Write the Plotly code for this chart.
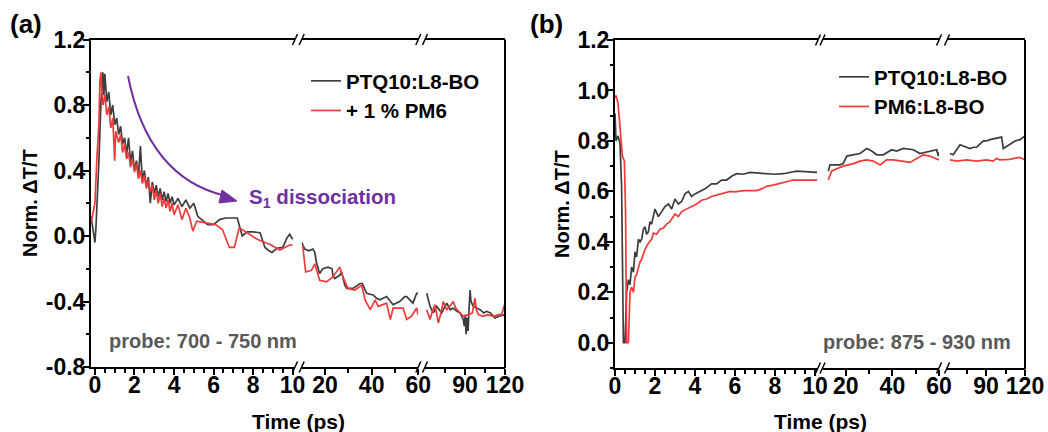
import plotly.graph_objects as go

# ---------------- data ----------------
# Panel (a): probe 700-750 nm
a_blk_t1 = [-0.2,-0.1,0.0,0.05,0.1,0.2,0.3,0.4,0.45,0.5,0.6,0.7,0.8,0.9,1.0,1.1,1.2,1.3,1.4,1.5,1.6,1.7,1.8,1.9,2.0,2.1,2.2,2.3,2.4,2.5,2.6,2.7,2.8,2.9,3.0,3.1,3.2,3.3,3.4,3.5,3.6,3.7,3.8,3.9,4.0,4.2,4.4,4.6,4.8,5.0,5.2,5.4,5.7,6.0,6.3,6.6,6.9,7.2,7.45,7.7,8.0,8.35,8.6,8.8,8.96,9.2,9.5,9.72,9.85,10.0]
a_blk_y1 = [0.12,0.04,-0.04,0.05,0.16,0.46,0.81,1.0,0.86,0.99,0.82,0.88,0.74,0.8,0.68,0.72,0.62,0.67,0.56,0.6,0.5,0.6,0.45,0.52,0.4,0.46,0.36,0.55,0.33,0.4,0.3,0.36,0.2,0.33,0.26,0.31,0.24,0.29,0.22,0.27,0.21,0.26,0.2,0.24,0.19,0.23,0.18,0.22,0.17,0.2,0.12,0.1,0.07,0.07,0.1,0.11,0.11,0.11,0.0,0.025,0.025,0.02,-0.07,-0.09,-0.1,-0.075,-0.07,-0.01,0.01,-0.02]
a_red_t1 = [-0.2,-0.1,0.0,0.1,0.2,0.25,0.3,0.35,0.4,0.5,0.6,0.7,0.8,0.9,1.0,1.05,1.2,1.3,1.4,1.5,1.6,1.7,1.8,1.9,2.0,2.1,2.2,2.3,2.4,2.5,2.6,2.7,2.8,2.9,3.0,3.1,3.2,3.3,3.4,3.5,3.6,3.7,3.8,3.9,4.0,4.2,4.4,4.6,4.8,4.95,5.15,5.6,6.1,6.45,6.8,7.05,7.3,7.7,8.2,8.6,8.85,9.35,9.85,10.0]
a_red_y1 = [0.08,0.14,0.2,0.48,0.68,0.95,1.0,0.88,0.8,0.86,0.74,0.79,0.66,0.72,0.46,0.64,0.57,0.62,0.51,0.56,0.47,0.51,0.42,0.47,0.39,0.44,0.35,0.4,0.32,0.37,0.29,0.34,0.27,0.31,0.22,0.28,0.2,0.26,0.18,0.23,0.17,0.22,0.15,0.2,0.13,0.19,0.1,0.17,0.11,0.03,0.09,0.08,0.07,0.04,-0.07,-0.07,0.05,0.02,-0.02,-0.04,-0.05,-0.085,-0.055,-0.055]
a_blk_t2 = [10.0,11.3,13.0,14.8,15.6,16.3,17.7,19.0,21.3,23.0,23.4,24.2,26.3,27.1,28.5,29.3,32.0,35.0,36.0,37.8,40.6,42.1,43.5,46.4,49.2,52.0,54.2,55.0,57.7,59.3,59.9]
a_blk_y2 = [-0.04,-0.08,-0.09,-0.08,-0.1,-0.16,-0.23,-0.2,-0.19,-0.2,-0.24,-0.26,-0.24,-0.22,-0.3,-0.32,-0.32,-0.29,-0.29,-0.35,-0.36,-0.38,-0.39,-0.37,-0.42,-0.4,-0.37,-0.37,-0.41,-0.35,-0.35]
a_red_t2 = [10.4,11.7,14.2,15.6,17.7,20.6,23.4,26.3,27.7,29.8,32.8,35.7,37.2,39.4,41.5,42.8,46.4,48.0,49.2,53.5,55.0,57.1,59.3,59.9]
a_red_y2 = [-0.055,-0.22,-0.21,-0.17,-0.27,-0.28,-0.25,-0.19,-0.25,-0.32,-0.33,-0.3,-0.39,-0.45,-0.39,-0.43,-0.41,-0.51,-0.44,-0.44,-0.51,-0.49,-0.44,-0.48]
a_blk_t3 = [61.3,63.8,66.2,68.8,72.5,76.3,79.0,81.0,84.0,86.3,88.7,89.5,90.2,90.8,91.5,92.3,93.0,93.8,94.5,96.2,98.5,101.3,104.0,106.3,109.0,112.5,115.5,118.7,120.0]
a_blk_y3 = [-0.35,-0.43,-0.47,-0.43,-0.47,-0.41,-0.45,-0.44,-0.46,-0.47,-0.51,-0.55,-0.48,-0.6,-0.5,-0.58,-0.45,-0.33,-0.4,-0.43,-0.44,-0.45,-0.47,-0.46,-0.47,-0.5,-0.49,-0.48,-0.48]
a_red_t3 = [61.3,63.8,65.5,67.5,70.0,72.0,73.7,76.3,78.5,81.2,83.0,85.0,88.7,92.5,95.5,97.5,98.5,100.0,103.7,107.0,111.2,115.0,117.5,120.0]
a_red_y3 = [-0.45,-0.51,-0.46,-0.42,-0.53,-0.47,-0.4,-0.45,-0.43,-0.4,-0.44,-0.46,-0.49,-0.48,-0.47,-0.38,-0.45,-0.48,-0.49,-0.48,-0.49,-0.48,-0.48,-0.41]

# Panel (b): probe 875-930 nm
b_blk_t1 = [0.0,0.05,0.15,0.25,0.33,0.37,0.42,0.5,0.58,0.67,0.75,0.83,0.92,1.0,1.08,1.17,1.25,1.33,1.42,1.5,1.58,1.67,1.75,1.83,1.92,2.0,2.17,2.33,2.5,2.67,2.83,3.0,3.17,3.33,3.5,3.67,3.83,4.0,4.25,4.5,4.83,5.08,5.33,5.58,5.83,6.08,6.4,6.75,7.2,7.58,8.0,8.42,8.75,9.08,9.5,10.1]
b_blk_y1 = [0.91,0.8,0.82,0.79,0.62,0.2,0.0,0.0,0.2,0.25,0.23,0.3,0.28,0.36,0.34,0.41,0.4,0.41,0.45,0.46,0.43,0.44,0.48,0.47,0.5,0.53,0.5,0.52,0.54,0.55,0.53,0.57,0.55,0.56,0.59,0.6,0.58,0.59,0.6,0.61,0.63,0.63,0.645,0.645,0.66,0.67,0.668,0.675,0.672,0.67,0.668,0.67,0.675,0.68,0.678,0.675]
b_red_t1 = [0.0,0.05,0.15,0.25,0.37,0.47,0.53,0.58,0.67,0.75,0.83,0.92,1.0,1.08,1.17,1.25,1.33,1.42,1.5,1.67,1.83,1.92,2.08,2.25,2.42,2.58,2.75,3.0,3.17,3.33,3.58,3.83,4.08,4.33,4.58,4.83,5.08,5.33,5.75,6.0,6.42,6.75,7.08,7.33,7.58,7.9,8.25,8.6,8.92,9.3,9.7,10.1]
b_red_y1 = [0.97,0.98,0.95,0.84,0.74,0.72,0.51,0.0,0.0,0.2,0.22,0.2,0.26,0.27,0.3,0.32,0.33,0.355,0.37,0.395,0.41,0.435,0.43,0.45,0.455,0.47,0.48,0.51,0.5,0.52,0.53,0.54,0.55,0.565,0.57,0.58,0.585,0.59,0.6,0.598,0.603,0.603,0.603,0.61,0.62,0.625,0.632,0.64,0.645,0.645,0.645,0.645]
b_blk_t2 = [12.5,13.2,17.5,18.9,20.4,23.2,26.1,29.0,31.1,33.3,36.1,39.7,41.8,44.7,49.0,51.8,56.1,59.0,59.7,60.0]
b_blk_y2 = [0.68,0.705,0.705,0.71,0.74,0.745,0.75,0.77,0.76,0.745,0.745,0.765,0.76,0.77,0.765,0.75,0.76,0.765,0.74,0.755]
b_red_t2 = [12.5,13.9,16.1,18.9,23.2,26.1,29.0,31.8,34.7,37.5,40.4,43.3,47.6,50.4,53.3,56.1,59.0,60.0]
b_red_y2 = [0.645,0.68,0.69,0.7,0.71,0.72,0.725,0.72,0.705,0.725,0.725,0.72,0.715,0.73,0.745,0.74,0.73,0.725]
b_blk_t3 = [62.3,64.8,70.0,72.5,77.7,80.5,82.8,88.0,90.5,93.0,98.0,99.5,102.0,103.3,108.0,112.3,116.2,118.7,120.0]
b_blk_y3 = [0.75,0.745,0.785,0.78,0.77,0.775,0.775,0.8,0.8,0.805,0.81,0.81,0.815,0.77,0.785,0.8,0.805,0.815,0.82]
b_red_t3 = [62.3,67.5,75.0,82.8,90.5,95.5,98.0,100.5,108.0,116.0,120.0]
b_red_y3 = [0.725,0.72,0.725,0.72,0.725,0.72,0.73,0.725,0.727,0.735,0.725]

names_a = ["PTQ10:L8-BO", "+ 1 % PM6"]
names_b = ["PTQ10:L8-BO", "PM6:L8-BO"]

ya_ticks = [-0.8, -0.4, 0.0, 0.4, 0.8, 1.2]
yb_ticks = [0.0, 0.2, 0.4, 0.6, 0.8, 1.0, 1.2]
x1_ticks = [0, 2, 4, 6, 8, 10]
x2_ticks = [20, 40, 60]
x2_minor = [30, 50]
x3_ticks = [90, 120]
x3_minor = [75, 105]

# ---------------- styling ----------------
W, H = 1048, 432
FONT = "Liberation Sans, Arial, sans-serif"
BLK = "#3d3d3d"
RED = "#f03a3a"
PURPLE = "#7030a0"
GREY_TXT = "#595959"
TICK_SIZE = 23


def px(x):
    return x / W


def py(y):
    return 1 - y / H


fig = go.Figure()


def add(t, y, color, xa, ya, name, show, legend):
    fig.add_trace(go.Scatter(x=t, y=y, mode="lines", line=dict(color=color, width=1.7),
                             xaxis=xa, yaxis=ya, name=name, showlegend=show, legend=legend))


add(a_blk_t1, a_blk_y1, BLK, "x", "y", names_a[0], True, "legend")
add(a_red_t1, a_red_y1, RED, "x", "y", names_a[1], True, "legend")
add(a_blk_t2, a_blk_y2, BLK, "x2", "y", names_a[0], False, "legend")
add(a_red_t2, a_red_y2, RED, "x2", "y", names_a[1], False, "legend")
add(a_blk_t3, a_blk_y3, BLK, "x3", "y", names_a[0], False, "legend")
add(a_red_t3, a_red_y3, RED, "x3", "y", names_a[1], False, "legend")

add(b_blk_t1, b_blk_y1, BLK, "x4", "y2", names_b[0], True, "legend2")
add(b_red_t1, b_red_y1, RED, "x4", "y2", names_b[1], True, "legend2")
add(b_blk_t2, b_blk_y2, BLK, "x5", "y2", names_b[0], False, "legend2")
add(b_red_t2, b_red_y2, RED, "x5", "y2", names_b[1], False, "legend2")
add(b_blk_t3, b_blk_y3, BLK, "x6", "y2", names_b[0], False, "legend2")
add(b_red_t3, b_red_y3, RED, "x6", "y2", names_b[1], False, "legend2")

tickfont = dict(family=FONT, size=TICK_SIZE, color="black", weight="bold")


def xax(dom, rng, anchor, tickvals, minor):
    return dict(domain=[px(dom[0]), px(dom[1])], range=rng, anchor=anchor,
                showline=True, linecolor="black", linewidth=2, mirror=True,
                ticks="outside", ticklen=6, tickwidth=1.8, tickcolor="black",
                tickmode="array", tickvals=tickvals, ticktext=[str(v) for v in tickvals],
                tickfont=tickfont, showgrid=False, zeroline=False, automargin=False,
                ticklabelstandoff=-10, minor=minor)


def yax(dom, rng, anchor, tickvals, mdt):
    return dict(domain=[py(dom[0]), py(dom[1])], range=rng, anchor=anchor,
                showline=True, linecolor="black", linewidth=2,
                ticks="outside", ticklen=6, tickwidth=1.8, tickcolor="black",
                tickmode="array", tickvals=tickvals, ticktext=["%.1f" % v for v in tickvals],
                tickfont=tickfont, showgrid=False, zeroline=False, automargin=False,
                ticklabelstandoff=-7,
                minor=dict(dtick=mdt, tick0=0, ticks="outside", ticklen=3.5, tickwidth=1.5,
                           tickcolor="black", showgrid=False))


m1 = dict(dtick=0.5, tick0=0, ticks="outside", ticklen=3.5, tickwidth=1.5, tickcolor="black", showgrid=False)
m2 = dict(tickvals=x2_minor, ticks="outside", ticklen=3.5, tickwidth=1.5, tickcolor="black", showgrid=False)
m3 = dict(tickvals=x3_minor, ticks="outside", ticklen=3.5, tickwidth=1.5, tickcolor="black", showgrid=False)

legfont = dict(family=FONT, size=20.5, color="black", weight="bold")

fig.update_layout(
    width=W, height=H, margin=dict(l=0, r=0, t=0, b=0),
    paper_bgcolor="white", plot_bgcolor="white",
    font=dict(family=FONT, color="black"),
    xaxis=xax((91, 295), [-0.2, 10.12], "y", x1_ticks, m1),
    xaxis2=xax((301.7, 418.3), [10, 60], "y", x2_ticks, m2),
    xaxis3=xax((425, 505), [60, 120], "y", x3_ticks, m3),
    xaxis4=xax((615, 818), [0, 10.15], "y2", x1_ticks, m1),
    xaxis5=xax((822.5, 939), [10, 60], "y2", x2_ticks, m2),
    xaxis6=xax((947, 1025), [60, 120], "y2", x3_ticks, m3),
    yaxis=yax((367, 39.5), [-0.8, 1.2], "x", ya_ticks, 0.2),
    yaxis2=yax((368, 40), [-0.1, 1.2], "x4", yb_ticks, 0.1),
    legend=dict(x=px(306), y=py(61), xanchor="left", yanchor="top",
                bgcolor="rgba(0,0,0,0)", font=legfont, tracegroupgap=0, itemwidth=30),
    legend2=dict(x=px(834), y=py(57), xanchor="left", yanchor="top",
                 bgcolor="rgba(0,0,0,0)", font=legfont, tracegroupgap=0, itemwidth=30),
)

shapes = []
# right borders
shapes.append(dict(type="line", xref="paper", yref="paper", x0=px(505), x1=px(505),
                   y0=py(368), y1=py(39.5), line=dict(color="black", width=2)))
shapes.append(dict(type="line", xref="paper", yref="paper", x0=px(1025), x1=px(1025),
                   y0=py(369), y1=py(40), line=dict(color="black", width=2)))
# axis break marks "//"
for (xl, xr), (ytop, ybot) in [((295, 301.7), (39.5, 367)), ((418.3, 425), (39.5, 367)),
                                ((818, 822.5), (40, 368)), ((939, 947), (40, 368))]:
    for yy in (ytop, ybot):
        for xx in (xl, xr):
            shapes.append(dict(type="line", xref="paper", yref="paper",
                               x0=px(xx - 2.5), y0=py(yy + 5.5), x1=px(xx + 2.5), y1=py(yy - 5.5),
                               line=dict(color="black", width=1.5)))

# curved purple arrow
shapes.append(dict(type="path", xref="paper", yref="paper",
                   path="M %f %f Q %f %f %f %f" % (px(128), py(76), px(148), py(178), px(226), py(196)),
                   line=dict(color=PURPLE, width=2)))
shapes.append(dict(type="path", xref="paper", yref="paper",
                   path="M %f %f L %f %f L %f %f Z" % (px(237), py(201), px(222), py(190), px(219), py(203)),
                   fillcolor=PURPLE, line=dict(color=PURPLE, width=1)))
fig.update_layout(shapes=shapes)

ann = []
ann.append(dict(text="(a)", x=px(8), y=py(24), xref="paper", yref="paper", xanchor="left", yanchor="middle",
                showarrow=False, font=dict(family=FONT, size=26, color="black", weight="bold")))
ann.append(dict(text="(b)", x=px(528), y=py(24), xref="paper", yref="paper", xanchor="left", yanchor="middle",
                showarrow=False, font=dict(family=FONT, size=26, color="black", weight="bold")))
for xc in (298, 820):
    ann.append(dict(text="Time (ps)", x=px(xc), y=py(421), xref="paper", yref="paper",
                    xanchor="center", yanchor="middle", showarrow=False,
                    font=dict(family=FONT, size=21, color="black", weight="bold")))
for xc, yc in ((30, 203), (562, 204)):
    ann.append(dict(text="Norm. ΔT/T", x=px(xc), y=py(yc), xref="paper", yref="paper",
                    xanchor="center", yanchor="middle", textangle=-90, showarrow=False,
                    font=dict(family=FONT, size=20, color="black", weight="bold")))
ann.append(dict(text="probe: 700 - 750 nm", x=px(107), y=py(341), xref="paper", yref="paper",
                xanchor="left", yanchor="middle", showarrow=False,
                font=dict(family=FONT, size=20, color=GREY_TXT, weight="bold")))
ann.append(dict(text="probe: 875 - 930 nm", x=px(1013), y=py(342), xref="paper", yref="paper",
                xanchor="right", yanchor="middle", showarrow=False,
                font=dict(family=FONT, size=20, color=GREY_TXT, weight="bold")))
ann.append(dict(text="S<sub>1</sub> dissociation", x=px(247), y=py(198), xref="paper", yref="paper",
                xanchor="left", yanchor="middle", showarrow=False,
                font=dict(family=FONT, size=20.5, color=PURPLE, weight="bold")))
fig.update_layout(annotations=ann)

fig.write_html("out.html")
